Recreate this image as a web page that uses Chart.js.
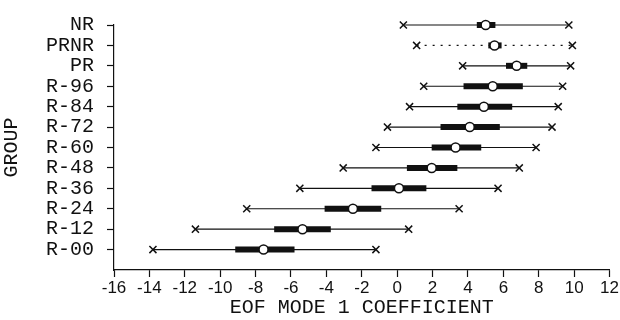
<!DOCTYPE html>
<html>
<head>
<meta charset="utf-8">
<script src="https://cdn.jsdelivr.net/npm/chart.js@4"></script>
<style>
  body { margin: 0; background: #fff; }
</style>
</head>
<body>
<canvas id="boxChart" width="620" height="320"></canvas>
<script>
const groups = ['R-00', 'R-12', 'R-24', 'R-36', 'R-48', 'R-60', 'R-72', 'R-84', 'R-96', 'PR', 'PRNR', 'NR']
const minVals = [-13.8, -11.4, -8.5, -5.5, -3.05, -1.2, -0.55, 0.7, 1.5, 3.7, 1.1, 0.35]
const q1Vals = [-9.15, -6.95, -4.1, -1.45, 0.55, 1.95, 2.45, 3.4, 3.75, 6.15, 5.15, 4.5]
const medVals = [-7.55, -5.35, -2.5, 0.1, 1.95, 3.3, 4.1, 4.9, 5.4, 6.75, 5.5, 5.0]
const q3Vals = [-5.8, -3.75, -0.9, 1.65, 3.4, 4.75, 5.8, 6.5, 7.1, 7.35, 5.9, 5.55]
const maxVals = [-1.2, 0.65, 3.5, 5.7, 6.9, 7.85, 8.75, 9.1, 9.35, 9.8, 9.9, 9.7]
const dottedGroups = ['PRNR']

const ink = '#111'
const monoFont = 'Liberation Mono'

let datasets = []

// whiskers (thin lines from min to max)
groups.forEach((g, i) => {
    datasets.push({
        data: [{x: minVals[i], y: i + 1}, {x: maxVals[i], y: i + 1}],
        showLine: true,
        borderColor: ink,
        borderWidth: 1.2,
        borderDash: dottedGroups.includes(g) ? [2, 6] : [],
        pointRadius: 0,
        order: 4
    })
})

// boxes (thick bars q1..q3)
groups.forEach((g, i) => {
    datasets.push({
        data: [{x: q1Vals[i], y: i + 1}, {x: q3Vals[i], y: i + 1}],
        showLine: true,
        borderColor: ink,
        borderWidth: 6,
        borderCapStyle: 'butt',
        pointRadius: 0,
        order: 3
    })
})

// extremes
datasets.push({
    data: groups.map((g, i) => ({x: minVals[i], y: i + 1})).concat(groups.map((g, i) => ({x: maxVals[i], y: i + 1}))),
    pointStyle: 'crossRot',
    pointRadius: 5,
    borderColor: ink,
    borderWidth: 1.5,
    order: 2
})

// medians
datasets.push({
    data: groups.map((g, i) => ({x: medVals[i], y: i + 1})),
    pointStyle: 'circle',
    pointRadius: 4.5,
    backgroundColor: '#fff',
    borderColor: ink,
    borderWidth: 1.5,
    order: 1
})

datasets.forEach(d => d.clip = false)

let ctx = document.querySelector('#boxChart').getContext('2d')
let boxChart = new Chart(ctx, {
    type: 'scatter',
    data: { datasets: datasets },
    options: {
        responsive: false,
        animation: false,
        layout: { padding: { top: 21, right: 10, left: 0, bottom: 0 } },
        plugins: { legend: { display: false }, tooltip: { enabled: false } },
        scales: {
            x: {
                type: 'linear',
                min: -16,
                max: 12,
                afterFit: s => { s.height = 50 },
                ticks: {
                    stepSize: 2,
                    autoSkip: false,
                    maxRotation: 0,
                    color: ink,
                    padding: 1,
                    font: { family: 'Liberation Sans', size: 17 }
                },
                grid: { drawOnChartArea: false, drawTicks: true, tickLength: 7, color: ink, tickWidth: 1.2 },
                border: { color: ink, width: 1.2 },
                title: {
                    display: true,
                    text: 'EOF MODE 1 COEFFICIENT',
                    color: ink,
                    padding: 0,
                    font: { family: monoFont, size: 20 }
                }
            },
            y: {
                type: 'linear',
                min: 0,
                max: 12,
                afterFit: s => { s.width = 114 },
                afterBuildTicks: s => { s.ticks = groups.map((g, i) => ({value: i + 1})) },
                ticks: {
                    autoSkip: false,
                    color: ink,
                    padding: 13,
                    font: { family: monoFont, size: 20 },
                    callback: v => groups[v - 1]
                },
                grid: { drawOnChartArea: false, drawTicks: true, tickLength: 7, color: ink, tickWidth: 1.2 },
                border: { color: ink, width: 1.2 },
                title: {
                    display: true,
                    text: 'GROUP',
                    color: ink,
                    padding: 0,
                    font: { family: monoFont, size: 20 }
                }
            }
        }
    }
})
</script>
</body>
</html>
